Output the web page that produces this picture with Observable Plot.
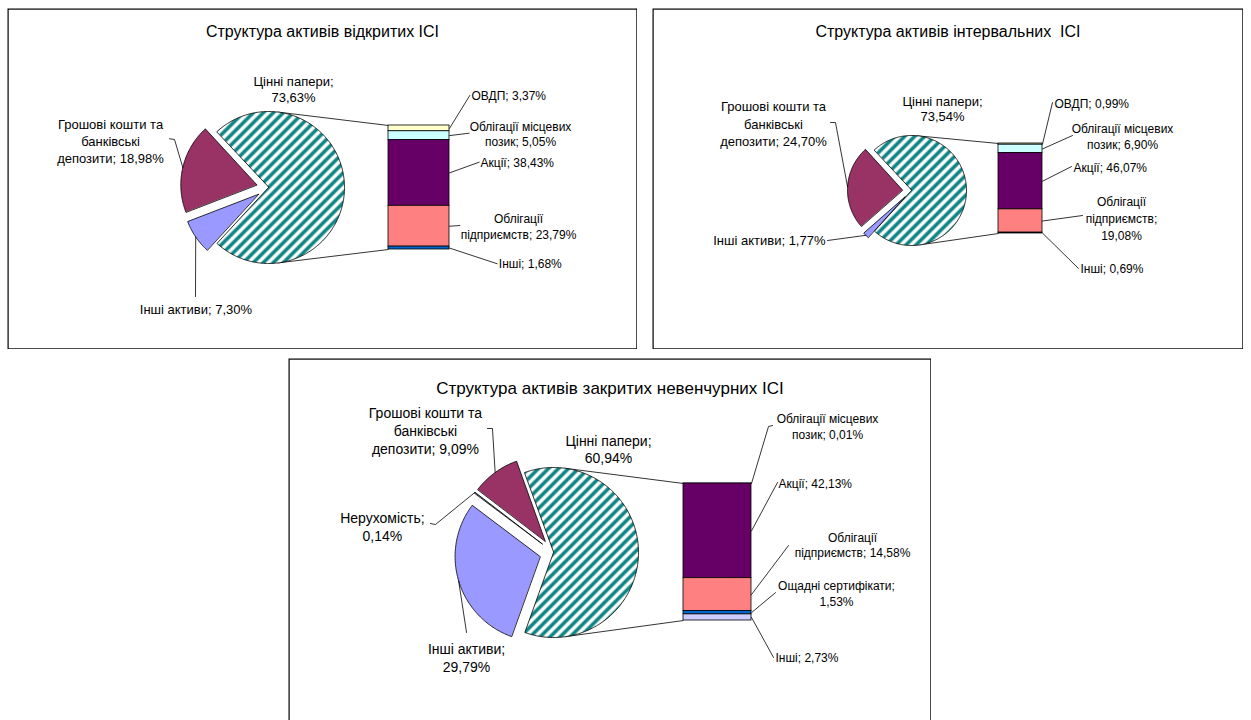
<!DOCTYPE html>
<html><head><meta charset="utf-8">
<script src="https://cdn.jsdelivr.net/npm/d3@7"></script>
<script src="https://cdn.jsdelivr.net/npm/@observablehq/plot@0.6"></script>
<style>
html,body{margin:0;padding:0;background:#fff;overflow:hidden;width:1251px;height:720px;}
#root{position:relative;width:1251px;height:720px;overflow:hidden;background:#fff;}
.panel{position:absolute;}
.panel svg{display:block;}
</style></head><body><div id="root"></div>
<script>
// ---------------- DATA ----------------
const titles = [
  "Структура активів відкритих ІСІ",
  "Структура активів інтервальних  ІСІ",
  "Структура активів закритих невенчурних ІСІ"
];
const pie1Names = ["Цінні папери", "Грошові кошти та банківські депозити", "Інші активи"];
const pie1Values = [73.63, 18.98, 7.30];
const bar1Names = ["ОВДП", "Облігації місцевих позик", "Акції", "Облігації підприємств", "Інші"];
const bar1Values = [3.37, 5.05, 38.43, 23.79, 1.68];

const pie2Names = ["Цінні папери", "Грошові кошти та банківські депозити", "Інші активи"];
const pie2Values = [73.54, 24.70, 1.77];
const bar2Names = ["ОВДП", "Облігації місцевих позик", "Акції", "Облігації підприємств", "Інші"];
const bar2Values = [0.99, 6.90, 46.07, 19.08, 0.69];

const pie3Names = ["Цінні папери", "Грошові кошти та банківські депозити", "Нерухомість", "Інші активи"];
const pie3Values = [60.94, 9.09, 0.14, 29.79];
const bar3Names = ["Облігації місцевих позик", "Акції", "Облігації підприємств", "Ощадні сертифікати", "Інші"];
const bar3Values = [0.01, 42.13, 14.58, 1.53, 2.73];

// ---------------- STYLES ----------------
const FONT = "'Liberation Sans', Arial, Helvetica, sans-serif";
const styles = [
  {pieFills: ["url(#hatch1)", "#993366", "#9999FF"], barFills: ["#FFFFCC", "#CCFFFF", "#660066", "#FF8080", "#0066CC"]},
  {pieFills: ["url(#hatch2)", "#993366", "#9999FF"], barFills: ["#FFFFCC", "#CCFFFF", "#660066", "#FF8080", "#0066CC"]},
  {pieFills: ["url(#hatch3)", "#993366", "#333366", "#9999FF"], barFills: ["#CCFFFF", "#660066", "#FF8080", "#0066CC", "#CCCCFF"]}
];

// ---------------- LAYOUT ----------------
const layouts = [
  {
    box: {left: 7, top: 8, width: 630, height: 341},
    title: {dy: 23, size: 16},
    pie: {cx: 268, cy: 187, r: 76, explode: 12},
    bar: {x0: 388, x1: 449, y0: 125, y1: 249},
    pieFont: 13, barFont: 12,
    pieLabels: [
      {lines: [2, 1], lh: 1.28, at: [25, -98.7], anchor: "middle"},
      {lines: [3, 1, 2], lh: 1.3, at: [-72.3, -27], anchor: "middle", leader: [[-8.3, -28], [-13.3, -28.7]]},
      {lines: [3], lh: 1.2, at: [0.2, 71.6], anchor: "middle", leader: [[-0.2, 59.6]]}
    ],
    barLabels: [
      {lines: [2], at: [22, -32.9], anchor: "start", leader: [[20.3, -32.9]]},
      {lines: [2, 2], lh: 1.22, at: [71, -1.8], anchor: "middle", leader: [[19.7, -2.4]]},
      {lines: [2], at: [31, -10.7], anchor: "start", leader: [[29.7, -10.7]]},
      {lines: [1, 2], lh: 1.38, at: [69, -0.7], anchor: "middle", leader: [[10.3, -0.7]]},
      {lines: [2], at: [49.3, 15.7], anchor: "start", leader: [[47.7, 15.7]]}
    ]
  },
  {
    box: {left: 652, top: 8, width: 591, height: 341},
    title: {dy: 23, size: 16},
    pie: {cx: 911, cy: 190, r: 55, explode: 9},
    bar: {x0: 998, x1: 1042, y0: 143, y1: 233},
    pieFont: 13, barFont: 12,
    pieLabels: [
      {lines: [2, 1], lh: 1.15, at: [31, -81.5], anchor: "middle"},
      {lines: [3, 1, 2], lh: 1.35, at: [-74.1, -63.7], anchor: "middle", leader: [[-12.1, -64.4], [-17.1, -64.4]]},
      {lines: [3], lh: 1.2, at: [-40.3, 4.7], anchor: "end", leader: [[-38.3, 5.2]]}
    ],
    barLabels: [
      {lines: [2], at: [12, -40.6], anchor: "start", leader: [[10, -41.6]]},
      {lines: [2, 2], lh: 1.33, at: [80, -13.4], anchor: "middle", leader: [[30, -13.4]]},
      {lines: [2], at: [31, -13.7], anchor: "start", leader: [[29, -14.7]]},
      {lines: [1, 1, 1], lh: 1.42, at: [79, -3.2], anchor: "middle", leader: [[40, -5.5]]},
      {lines: [2], at: [38, 35.4], anchor: "start", leader: [[36, 35.4]]}
    ]
  },
  {
    box: {left: 288, top: 358, width: 643, height: 380},
    title: {dy: 30, size: 17},
    pie: {cx: 553, cy: 552, r: 85, explode: 14},
    bar: {x0: 683, x1: 751, y0: 483, y1: 620},
    pieFont: 14, barFont: 12,
    pieLabels: [
      {lines: [2, 1], lh: 1.21, at: [55, -103.5], anchor: "middle"},
      {lines: [3, 1, 2], lh: 1.29, at: [-69.7, -42], anchor: "middle", leader: [[-2.7, -44], [-7.7, -44]]},
      {lines: [1, 1], lh: 1.29, at: [-92.3, 34], anchor: "middle", leader: [[-39.3, 32], [-44.3, 31]]},
      {lines: [2, 1], lh: 1.29, at: [7.9, 76.7], anchor: "middle", leader: [[7.9, 51.7]]}
    ],
    barLabels: [
      {lines: [2, 2], lh: 1.33, at: [76, -57.5], anchor: "middle", leader: [[17, -57], [21, -58]]},
      {lines: [2], at: [27, -47.3], anchor: "start", leader: [[26, -48.3]]},
      {lines: [1, 2], lh: 1.25, at: [101, -49.5], anchor: "middle", leader: [[37, -49]]},
      {lines: [2, 1], lh: 1.33, at: [85, -20], anchor: "middle", leader: [[24, -20]]},
      {lines: [2], at: [24, 40], anchor: "start", leader: [[22, 40]]}
    ]
  }
];

const charts = [
  {title: titles[0], pieNames: pie1Names, pieValues: pie1Values, barNames: bar1Names, barValues: bar1Values},
  {title: titles[1], pieNames: pie2Names, pieValues: pie2Values, barNames: bar2Names, barValues: bar2Values},
  {title: titles[2], pieNames: pie3Names, pieValues: pie3Values, barNames: bar3Names, barValues: bar3Values}
];

// ---------------- HELPERS ----------------
const fmt = v => v.toFixed(2).replace(".", ",") + "%";
function wrap(name, value, counts) {
  const words = (name + "; " + fmt(value)).split(" ");
  const out = []; let i = 0;
  for (const c of counts) { out.push(words.slice(i, i + c).join(" ")); i += c; }
  if (i < words.length) out[out.length - 1] += " " + words.slice(i).join(" ");
  return out.join("\n");
}
const rad = a => a * Math.PI / 180;

function pieSlices(values, pie) {
  const total = d3.sum(values);
  const spans = values.map(v => v / total * 360);
  let start = spans[0] / 2;
  return values.map((v, i) => {
    let a0, a1;
    if (i === 0) { a0 = -spans[0] / 2; a1 = spans[0] / 2; }
    else { a0 = start; a1 = start + spans[i]; start = a1; }
    const mid = rad((a0 + a1) / 2);
    const e = i === 0 ? 0 : pie.explode;
    return {i, a0, a1, mid, vx: pie.cx + e * Math.cos(mid), vy: pie.cy - e * Math.sin(mid)};
  });
}
function tangent(pie, px, py, upper) {
  const dx = px - pie.cx, dy = pie.cy - py;
  const d = Math.hypot(dx, dy);
  const base = Math.atan2(dy, dx);
  const off = Math.acos(pie.r / d);
  const a = upper ? base + off : base - off;
  return [pie.cx + pie.r * Math.cos(a), pie.cy - pie.r * Math.sin(a)];
}

function hatchDefs(id) {
  return () => {
    const g = document.createElementNS("http://www.w3.org/2000/svg", "g");
    g.innerHTML = `<defs><pattern id="${id}" patternUnits="userSpaceOnUse" width="10" height="10">
      <rect width="10" height="10" fill="#ffffff"/>
      <path d="M-2.5,2.5L2.5,-2.5M0,10L10,0M7.5,12.5L12.5,7.5" stroke="#0d8383" stroke-width="3.6"/>
    </pattern></defs>`;
    return g;
  };
}

function panel(k) {
  const c = charts[k], L = layouts[k], S = styles[k];
  const {box, pie, bar} = L;
  const slices = pieSlices(c.pieValues, pie);

  // slice polygons
  const polys = [];
  slices.forEach(s => {
    const fill = S.pieFills[s.i];
    polys.push({id: s.i, x: s.vx, y: s.vy, fill});
    const n = Math.max(2, Math.ceil(s.a1 - s.a0));
    for (let j = 0; j <= n; j++) {
      const a = rad(s.a0 + (s.a1 - s.a0) * j / n);
      polys.push({id: s.i, x: s.vx + pie.r * Math.cos(a), y: s.vy - pie.r * Math.sin(a), fill});
    }
  });

  // bar segments (stacked from top)
  const yb = d3.scaleLinear([0, d3.sum(c.barValues)], [bar.y0, bar.y1]);
  let cum = 0;
  const segs = c.barValues.map((v, i) => {
    const s = {x1: bar.x0, x2: bar.x1, y1: yb(cum), y2: yb(cum + v), fill: S.barFills[i]};
    cum += v; return s;
  });

  // connector lines (tangents from bar corners to circle)
  const tTop = tangent(pie, bar.x0, bar.y0, true);
  const tBot = tangent(pie, bar.x0, bar.y1, false);
  const links = [
    {x1: tTop[0], y1: tTop[1], x2: bar.x0, y2: bar.y0},
    {x1: tBot[0], y1: tBot[1], x2: bar.x0, y2: bar.y1}
  ];

  // labels & leaders
  const leaders = [];
  const textMarks = [];
  let lid = 0;
  L.pieLabels.forEach((lab, i) => {
    const s = slices[i];
    const ax = i === 0 ? pie.cx : s.vx + pie.r * Math.cos(s.mid);
    const ay = i === 0 ? pie.cy : s.vy - pie.r * Math.sin(s.mid);
    if (lab.leader) {
      leaders.push({id: lid, x: ax, y: ay});
      lab.leader.forEach(p => leaders.push({id: lid, x: ax + p[0], y: ay + p[1]}));
      lid++;
    }
    textMarks.push(Plot.text([{x: ax + lab.at[0], y: ay + lab.at[1], t: wrap(c.pieNames[i], c.pieValues[i], lab.lines)}],
      {x: "x", y: "y", text: "t", textAnchor: lab.anchor, lineHeight: lab.lh || 1.2, fontSize: L.pieFont, fill: "#000", fontFamily: FONT}));
  });
  L.barLabels.forEach((lab, i) => {
    const ax = bar.x1, ay = (segs[i].y1 + segs[i].y2) / 2;
    if (lab.leader) {
      leaders.push({id: lid, x: ax, y: ay});
      lab.leader.forEach(p => leaders.push({id: lid, x: ax + p[0], y: ay + p[1]}));
      lid++;
    }
    textMarks.push(Plot.text([{x: ax + lab.at[0], y: ay + lab.at[1], t: wrap(c.barNames[i], c.barValues[i], lab.lines)}],
      {x: "x", y: "y", text: "t", textAnchor: lab.anchor, lineHeight: lab.lh || 1.2, fontSize: L.barFont, fill: "#000", fontFamily: FONT}));
  });

  const svg = Plot.plot({
    width: box.width, height: box.height, margin: 0,
    x: {domain: [box.left, box.left + box.width], range: [0, box.width], axis: null},
    y: {domain: [box.top, box.top + box.height], range: [0, box.height], axis: null},
    color: {type: "identity"},
    style: {fontFamily: FONT, background: "#fff", whiteSpace: "pre", overflow: "hidden"},
    marks: [
      hatchDefs("hatch" + (k + 1)),
      Plot.link(links, {x1: "x1", y1: "y1", x2: "x2", y2: "y2", stroke: "#000", strokeWidth: 0.8}),
      Plot.line(polys, {x: "x", y: "y", z: "id", fill: "fill", stroke: "#000", strokeWidth: 0.8, curve: "linear-closed"}),
      Plot.rect(segs, {x1: "x1", x2: "x2", y1: "y1", y2: "y2", fill: "fill", stroke: "#000", strokeWidth: 0.8}),
      Plot.line(leaders, {x: "x", y: "y", z: "id", stroke: "#000", strokeWidth: 0.8}),
      ...textMarks,
      Plot.text([c.title], {text: d => d, frameAnchor: "top", lineAnchor: "middle", dy: L.title.dy, fontSize: L.title.size, fill: "#000", fontFamily: FONT}),
      Plot.frame({stroke: "#000", strokeWidth: 1.2, inset: 0.6})
    ]
  });
  const div = document.createElement("div");
  div.className = "panel";
  div.style.left = box.left + "px";
  div.style.top = box.top + "px";
  div.appendChild(svg);
  document.getElementById("root").appendChild(div);
}

[0, 1, 2].forEach(panel);
</script>
</body></html>
